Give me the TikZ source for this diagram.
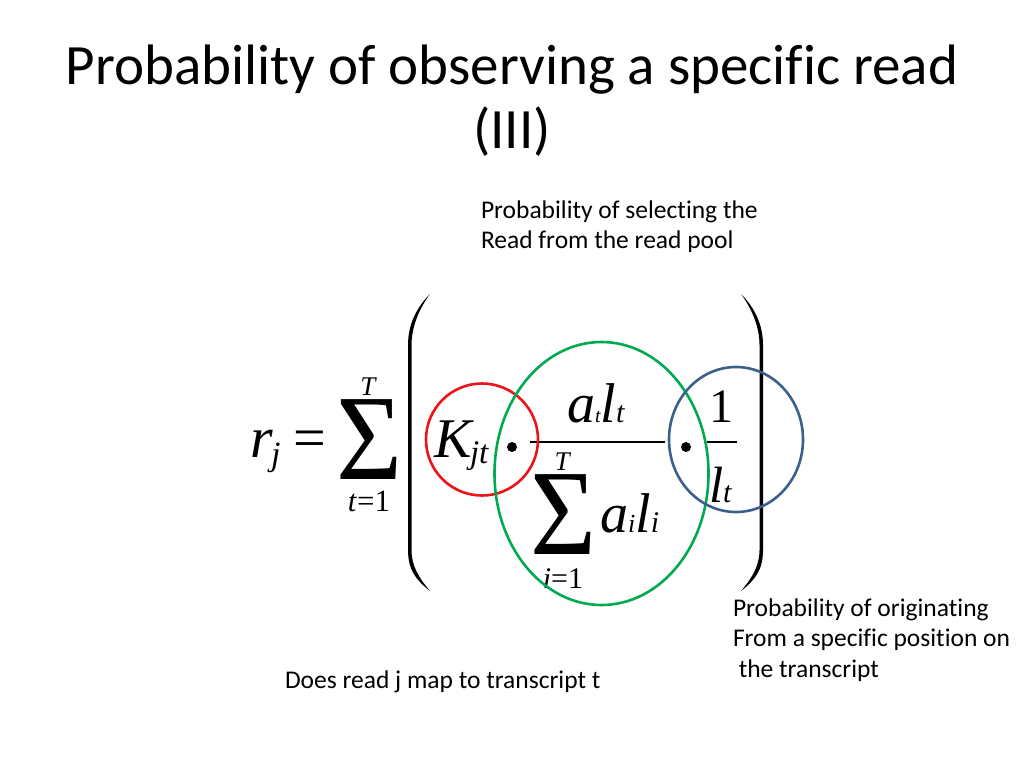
\documentclass[tikz,border=0pt]{standalone}
\usepackage{fontspec}
\usepackage{graphicx}
\setmainfont{Carlito}[Ligatures=NoCommon]
\newfontfamily\tm{Liberation Serif}
\newcommand\myfs[1]{\fontsize{#1}{#1}\selectfont}
\definecolor{cred}{RGB}{235,20,25}
\definecolor{cgreen}{RGB}{0,170,80}
\definecolor{cblue}{RGB}{60,95,140}
\tikzset{
  lbl/.style={inner sep=0pt, outer sep=0pt},
  body/.style={lbl, anchor=base west, font=\myfs{25.5}},
  ring/.style={line width=2.6pt},
}
\begin{document}
\begin{tikzpicture}[x=1pt,y=-1pt]
\useasboundingbox (0,0) rectangle (1024,768);
\fill[white] (0,0) rectangle (1024,768);
% title
\node[lbl, anchor=base] (title1) at (512,84) {\myfs{57}Probability of observing a specific read};
\node[lbl, anchor=base] (title2) at (512,148) {\myfs{57}(III)};
% annotations
\node[body] (sel1) at (481,218) {Probability of selecting the};
\node[body] (sel2) at (481,248) {Read from the read pool};
\node[body] (ori1) at (733,616) {Probability of originating};
\node[body] (ori2) at (733,646) {From a specific position on};
\node[body] (ori3) at (733,677) {\ the transcript};
\node[body] (map) at (285,688) {Does read j map to transcript t};
% formula
\node[lbl, anchor=base west] (r) at (250,457) {\tm\itshape\myfs{58}r};
\node[lbl, anchor=base west] (rj) at (271,465) {\tm\itshape\myfs{34}j};
\node[lbl, anchor=base] (eq) at (310,457) {\tm\myfs{58}=};
\node[lbl, anchor=base] (S1) at (370,479) {\scalebox{0.93}[1]{\tm\myfs{122}Σ}};
\node[lbl, anchor=base] (T1) at (368,395) {\tm\itshape\myfs{27}T};
\node[lbl, anchor=base] (L1) at (369,511) {\tm\myfs{31}\textit{t}=1};
\node[lbl, anchor=base west] (K) at (434,457) {\tm\itshape\myfs{56}K};
\node[lbl, anchor=base west] (Kjt) at (470,463) {\tm\itshape\myfs{33}jt};
\fill (512,447) circle[radius=5pt];
\coordinate (fb1) at (530,442);
\coordinate (fb2) at (665,442);
\draw[line width=2pt] (fb1) -- (fb2);
\node[lbl, anchor=base west] (num) at (567,422) {\tm\itshape\myfs{56}a{\myfs{20}t}l{\myfs{30}t}};
\node[lbl, anchor=base] (T2) at (562,470) {\tm\itshape\myfs{27}T};
\node[lbl, anchor=base] (S2) at (564,554) {\scalebox{0.93}[1]{\tm\myfs{122}Σ}};
\node[lbl, anchor=base west] (den) at (600,532) {\tm\itshape\myfs{56}a{\myfs{26}i}l{\myfs{30}i}};
\node[lbl, anchor=base] (L2) at (563,588) {\tm\myfs{30}\textit{i}=1};
\fill (686,447) circle[radius=5pt];
\node[lbl, anchor=base] (one) at (721,422) {\tm\myfs{48}1};
\coordinate (sb1) at (707,442);
\coordinate (sb2) at (737,442);
\draw[line width=2pt] (sb1) -- (sb2);
\node[lbl, anchor=base west] (lt) at (709,502) {\tm\itshape\myfs{51}l{\myfs{30}t}};
% parentheses
\fill (430,294) .. controls (416,308) and (408,325) .. (408,345) -- (408,550)
      .. controls (408,570) and (416,580) .. (430,591)
      .. controls (419,578) and (411.5,566) .. (411.5,550) -- (411.5,345)
      .. controls (411.5,327) and (419,309) .. (430,294) -- cycle;
\fill (741,294) .. controls (755,308) and (763,325) .. (763,345) -- (763,550)
      .. controls (763,570) and (755,580) .. (741,591)
      .. controls (752,578) and (759.5,566) .. (759.5,550) -- (759.5,345)
      .. controls (759.5,327) and (752,309) .. (741,294) -- cycle;
% rings
\draw[ring, cred] (482,439.5) circle[radius=56pt];
\draw[ring, cgreen] (601.5,473.5) ellipse[x radius=107pt, y radius=131.5pt];
\draw[ring, cblue] (736,439.5) ellipse[x radius=67pt, y radius=72.5pt];
\end{tikzpicture}
\end{document}
